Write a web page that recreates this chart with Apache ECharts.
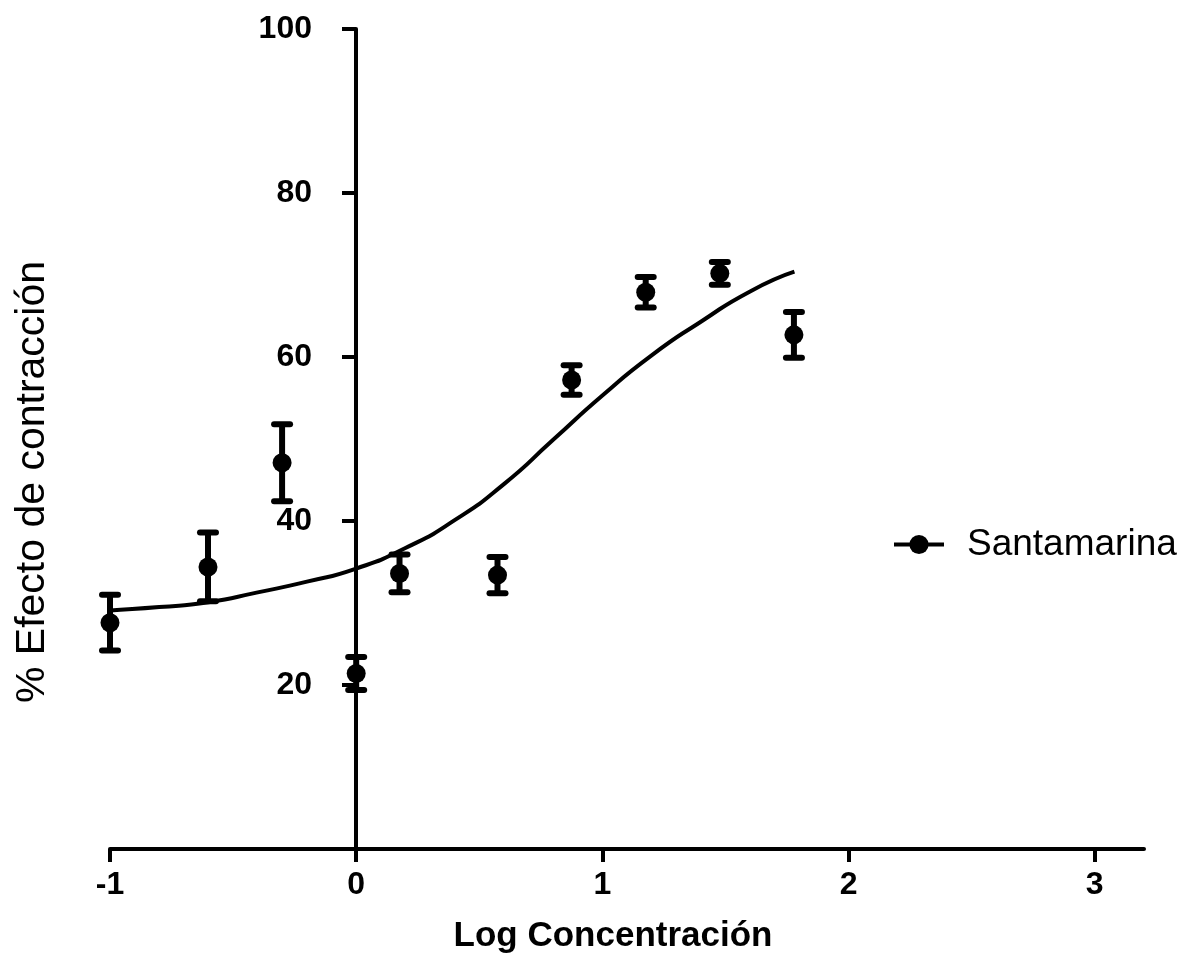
<!DOCTYPE html>
<html>
<head>
<meta charset="utf-8">
<script src="https://cdn.jsdelivr.net/npm/echarts@6/dist/echarts.min.js"></script>
<style>
  html, body { margin: 0; padding: 0; background: #fff; }
  #mychart { width: 1185px; height: 955px; }
</style>
</head>
<body>
<div id="mychart"></div>
<script>
// Log concentración de los puntos medidos
var logConc = [-1, -0.602, -0.301, 0, 0.176, 0.574, 0.875, 1.176, 1.477, 1.778];
// % efecto medio y error
var efecto = [27.6, 34.4, 47.1, 21.4, 33.6, 33.4, 57.2, 67.9, 70.2, 62.7];
var errores = [3.4, 4.2, 4.7, 2.0, 2.3, 2.2, 1.8, 1.85, 1.4, 2.8];
// curva ajustada
var curvaX = [-1.0, -0.8, -0.6, -0.4, -0.2, 0, 0.2, 0.4, 0.6, 0.8, 1.0, 1.2, 1.4, 1.6, 1.78];
var curvaY = [29.1, 29.5, 30.1, 31.3, 32.6, 34.2, 36.7, 40.1, 44.5, 49.9, 55.3, 60.2, 64.3, 68.0, 70.4];
var xTicks = [-1, 0, 1, 2, 3];

var fuente = 'Liberation Sans, Arial, sans-serif';

var puntos = [];
var barras = [];
for (var i = 0; i < logConc.length; i++) {
    puntos.push([logConc[i], efecto[i]]);
    barras.push([logConc[i], efecto[i] - errores[i], efecto[i] + errores[i]]);
}
var curva = [];
for (var j = 0; j < curvaX.length; j++) {
    curva.push([curvaX[j], curvaY[j]]);
}

var myChart = echarts.init(document.getElementById('mychart'));
myChart.setOption({
    animation: false,
    backgroundColor: '#fff',
    grid: {
        left: 110,
        right: 41,
        top: 29,
        bottom: 106,
        containLabel: false,
        outerBoundsMode: 'none'
    },
    legend: {
        data: ['Santamarina'],
        left: 887,
        top: 521,
        itemWidth: 50,
        itemHeight: 24,
        itemGap: 10,
        textStyle: {
            fontFamily: fuente,
            fontSize: 37,
            color: '#000',
            padding: [0, 0, 0, 18]
        },
        lineStyle: {
            color: '#000',
            width: 4,
            opacity: 1
        },
        itemStyle: {
            color: '#000'
        }
    },
    xAxis: {
        type: 'value',
        min: -1,
        max: 3.2,
        interval: 1,
        name: 'Log Concentración',
        nameLocation: 'middle',
        nameGap: 70,
        nameTextStyle: {
            fontFamily: fuente,
            fontSize: 35,
            fontWeight: 'bold',
            color: '#000',
            padding: [0, 28, 0, 0]
        },
        axisLine: {
            onZero: false,
            lineStyle: { color: '#000', width: 4 }
        },
        axisTick: {
            length: 13,
            lineStyle: { color: '#000', width: 4 },
            customValues: xTicks
        },
        axisLabel: {
            margin: 20,
            fontFamily: fuente,
            fontSize: 32,
            fontWeight: 'bold',
            color: '#000',
            customValues: xTicks
        },
        splitLine: { show: false }
    },
    yAxis: {
        type: 'value',
        min: 0,
        max: 100,
        interval: 20,
        // el eje Y cruza en x = 0 (1 unidad = 246 px desde el borde izquierdo)
        offset: -246,
        name: '% Efecto de contracción',
        nameLocation: 'middle',
        nameGap: 303,
        nameTextStyle: {
            fontFamily: fuente,
            fontSize: 41,
            color: '#000',
            padding: [0, 86, 0, 0]
        },
        axisLine: {
            onZero: false,
            lineStyle: { color: '#000', width: 4 }
        },
        axisTick: {
            length: 14,
            lineStyle: { color: '#000', width: 4 }
        },
        axisLabel: {
            margin: 44,
            fontFamily: fuente,
            fontSize: 32,
            fontWeight: 'bold',
            color: '#000',
            formatter: function (v) {
                return v === 0 ? '' : v;
            }
        },
        splitLine: { show: false }
    },
    series: [
        {
            name: 'curva',
            type: 'line',
            data: curva,
            smooth: 0.6,
            symbol: 'none',
            lineStyle: { color: '#000', width: 4 },
            z: 2
        },
        {
            name: 'error',
            type: 'custom',
            data: barras,
            renderItem: function (params, api) {
                var x = api.value(0);
                var arriba = api.coord([x, api.value(2)]);
                var abajo = api.coord([x, api.value(1)]);
                var estilo = { stroke: '#000', lineWidth: 6, lineCap: 'round' };
                return {
                    type: 'group',
                    children: [
                        { type: 'line', shape: { x1: arriba[0], y1: arriba[1], x2: abajo[0], y2: abajo[1] }, style: { stroke: '#000', lineWidth: 6 } },
                        { type: 'line', shape: { x1: arriba[0] - 8, y1: arriba[1], x2: arriba[0] + 8, y2: arriba[1] }, style: estilo },
                        { type: 'line', shape: { x1: abajo[0] - 8, y1: abajo[1], x2: abajo[0] + 8, y2: abajo[1] }, style: estilo }
                    ]
                };
            },
            z: 3
        },
        {
            name: 'Santamarina',
            type: 'line',
            data: puntos,
            symbol: 'circle',
            symbolSize: 19,
            itemStyle: { color: '#000' },
            lineStyle: { width: 0, opacity: 0 },
            z: 4
        }
    ]
});
</script>
</body>
</html>
